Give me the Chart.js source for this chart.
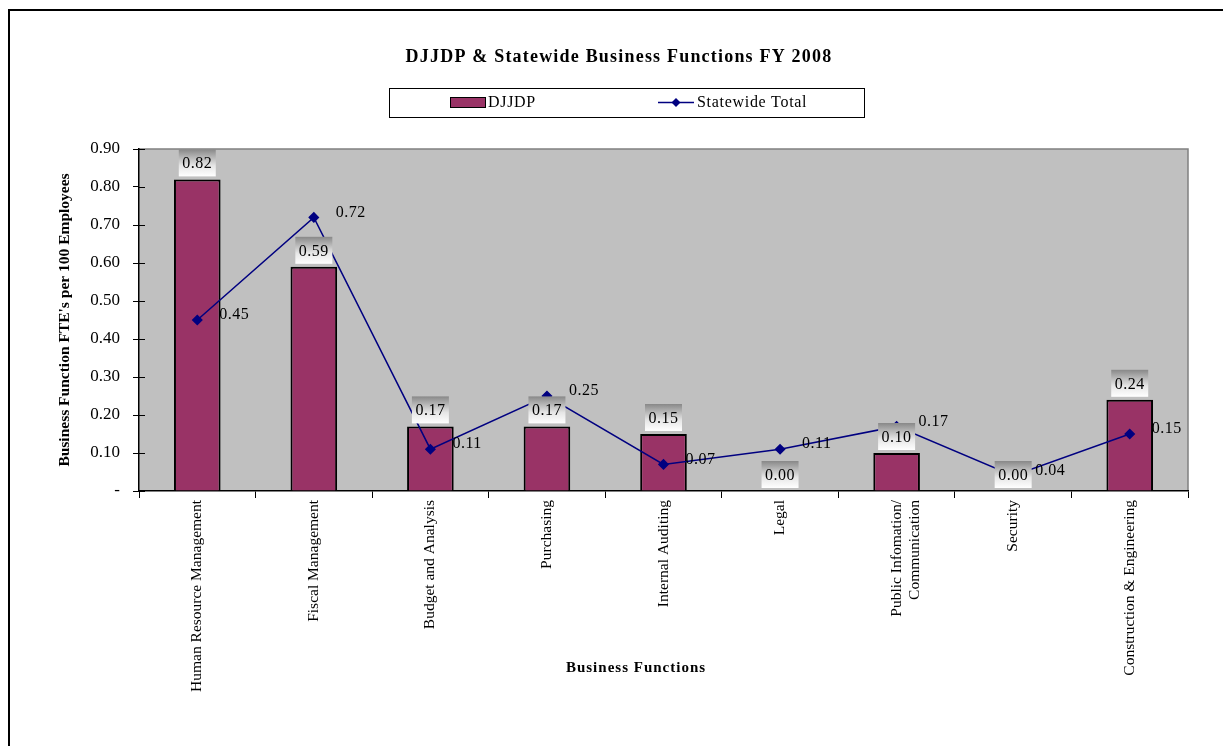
<!DOCTYPE html>
<html>
<head>
<meta charset="utf-8">
<title>DJJDP &amp; Statewide Business Functions FY 2008</title>
<script src="https://cdn.jsdelivr.net/npm/chart.js@4.4.0/dist/chart.umd.min.js"></script>
<style>
  html, body { margin: 0; padding: 0; background: #fff; }
  #wrap { width: 1223px; height: 746px; }
</style>
</head>
<body>
<div id="wrap"><canvas id="fteChart" width="1223" height="746"></canvas></div>
<script>
const categories = [
  'Human Resource Management',
  'Fiscal Management',
  'Budget and Analysis',
  'Purchasing',
  'Internal Auditing',
  'Legal',
  ['Public Infomation/', 'Communication'],
  'Security',
  'Construction & Engineering'
];
const djjdpValues = [0.82, 0.59, 0.17, 0.17, 0.15, 0.00, 0.10, 0.00, 0.24];
const statewideValues = [0.45, 0.72, 0.11, 0.25, 0.07, 0.11, 0.17, 0.04, 0.15];
const yTickLabels = ['-', '0.10', '0.20', '0.30', '0.40', '0.50', '0.60', '0.70', '0.80', '0.90'];

const chartTitle = 'DJJDP & Statewide Business Functions FY 2008';
const xTitle = 'Business Functions';
const yTitle = "Business Function FTE's per 100 Employees";

const serif = "'Times New Roman', 'Liberation Serif', serif";
const barColor = '#993366';
const lineColor = '#000080';

// background, frame, title, legend and value labels
const decorPlugin = {
  id: 'decor',
  beforeDraw(chart) {
    const ctx = chart.ctx;
    const a = chart.chartArea;
    ctx.save();
    ctx.fillStyle = '#fff';
    ctx.fillRect(0, 0, chart.width, chart.height);
    // outer frame
    ctx.strokeStyle = '#000';
    ctx.lineWidth = 2;
    ctx.beginPath();
    ctx.moveTo(9, chart.height + 5);
    ctx.lineTo(9, 10);
    ctx.lineTo(chart.width + 5, 10);
    ctx.stroke();
    // plot background
    ctx.fillStyle = '#c0c0c0';
    ctx.fillRect(a.left, a.top, a.right - a.left, a.bottom - a.top);
    ctx.strokeStyle = '#808080';
    ctx.lineWidth = 1.5;
    ctx.beginPath();
    ctx.moveTo(a.left, a.top);
    ctx.lineTo(a.right, a.top);
    ctx.lineTo(a.right, a.bottom);
    ctx.stroke();
    ctx.restore();
  },
  afterDatasetsDraw(chart) {
    const ctx = chart.ctx;
    ctx.save();
    ctx.font = '16px ' + serif;
    ctx.letterSpacing = '0.5px';
    ctx.textBaseline = 'middle';

    chart.getDatasetMeta(0).data.forEach((bar, i) => {
      const w = 37, h = 27;
      const x = bar.x - w / 2;
      const y = bar.y - 3 - h;
      const g = ctx.createLinearGradient(0, y, 0, y + h);
      g.addColorStop(0, '#888888');
      g.addColorStop(0.6, '#e6e6e6');
      g.addColorStop(1, '#ffffff');
      ctx.fillStyle = g;
      ctx.fillRect(x, y, w, h);
      ctx.fillStyle = '#000';
      ctx.textAlign = 'center';
      ctx.fillText(djjdpValues[i].toFixed(2), bar.x, y + h / 2 + 1);
    });

    chart.getDatasetMeta(1).data.forEach((pt, i) => {
      ctx.fillStyle = '#000';
      ctx.textAlign = 'left';
      ctx.fillText(statewideValues[i].toFixed(2), pt.x + 22, pt.y - 5);
    });
    ctx.restore();
  },
  afterDraw(chart) {
    const ctx = chart.ctx;
    const a = chart.chartArea;
    ctx.save();
    // y ticks cross the axis line
    const yScale = chart.scales.y;
    ctx.strokeStyle = '#000';
    ctx.lineWidth = 1;
    yScale.ticks.forEach((t, i) => {
      const py = Math.round(yScale.getPixelForTick(i)) + 0.5;
      ctx.beginPath();
      ctx.moveTo(a.left, py);
      ctx.lineTo(a.left + 6, py);
      ctx.stroke();
    });

    ctx.fillStyle = '#000';
    ctx.textBaseline = 'middle';
    ctx.textAlign = 'center';
    ctx.font = 'bold 18px ' + serif;
    ctx.letterSpacing = '1.2px';
    ctx.fillText(chartTitle, 619, 57);

    ctx.font = 'bold 15px ' + serif;
    ctx.letterSpacing = '1px';
    ctx.fillText(xTitle, 636, 668);

    // legend box
    ctx.letterSpacing = '0px';
    ctx.strokeStyle = '#000';
    ctx.lineWidth = 1;
    ctx.strokeRect(389.5, 88.5, 475, 29);
    ctx.fillStyle = barColor;
    ctx.fillRect(450, 97, 35, 10);
    ctx.strokeRect(450.5, 97.5, 35, 10);
    ctx.strokeStyle = lineColor;
    ctx.lineWidth = 1.5;
    ctx.beginPath();
    ctx.moveTo(658, 102.5);
    ctx.lineTo(694, 102.5);
    ctx.stroke();
    ctx.fillStyle = lineColor;
    ctx.beginPath();
    ctx.moveTo(676, 98);
    ctx.lineTo(680.5, 102.5);
    ctx.lineTo(676, 107);
    ctx.lineTo(671.5, 102.5);
    ctx.closePath();
    ctx.fill();
    ctx.fillStyle = '#000';
    ctx.textAlign = 'left';
    ctx.font = '16px ' + serif;
    ctx.letterSpacing = '0.7px';
    ctx.fillText('DJJDP', 488, 103);
    ctx.fillText('Statewide Total', 697, 103);
    ctx.restore();
  }
};

const ctx = document.getElementById('fteChart').getContext('2d');

new Chart(ctx, {
  type: 'bar',
  data: {
    labels: categories,
    datasets: [
      {
        type: 'bar',
        label: 'DJJDP',
        data: djjdpValues,
        backgroundColor: barColor,
        borderColor: '#000',
        borderWidth: 2,
        barPercentage: 0.4,
        categoryPercentage: 1,
        order: 2
      },
      {
        type: 'line',
        label: 'Statewide Total',
        data: statewideValues,
        borderColor: lineColor,
        borderWidth: 1.5,
        pointStyle: 'rectRot',
        pointRadius: 4.5,
        pointBackgroundColor: lineColor,
        pointBorderColor: lineColor,
        tension: 0,
        fill: false,
        order: 1
      }
    ]
  },
  options: {
    responsive: false,
    animation: false,
    layout: { padding: { top: 149, right: 35, left: 0, bottom: 0 } },
    plugins: {
      legend: { display: false },
      title: { display: false },
      tooltip: { enabled: false }
    },
    scales: {
      x: {
        grid: { drawOnChartArea: false, drawTicks: true, tickLength: 7, color: '#000', offset: true },
        border: { color: '#000', width: 1.5 },
        ticks: {
          color: '#000',
          font: { family: serif, size: 15.5 },
          minRotation: 90,
          maxRotation: 90,
          autoSkip: false,
          padding: 2
        },
        afterFit: scale => { scale.height = 746 - 491; }
      },
      y: {
        min: 0,
        max: 0.9,
        grid: { drawOnChartArea: false, drawTicks: true, tickLength: 6, color: '#000' },
        border: { color: '#000', width: 1.5 },
        ticks: {
          stepSize: 0.1,
          color: '#000',
          font: { family: serif, size: 17 },
          padding: 13,
          callback: (value, index) => yTickLabels[index]
        },
        title: {
          display: true,
          text: yTitle,
          color: '#000',
          font: { family: serif, size: 15.5, weight: 'bold' },
          padding: { top: 56, bottom: 0 }
        },
        afterFit: scale => { scale.width = 139; }
      }
    }
  },
  plugins: [decorPlugin]
});
</script>
</body>
</html>
